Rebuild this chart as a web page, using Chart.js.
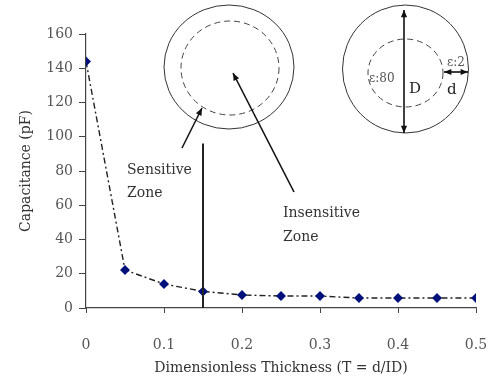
<!DOCTYPE html>
<html>
<head>
<meta charset="utf-8">
<script src="https://cdn.jsdelivr.net/npm/chart.js@4.4.0/dist/chart.umd.min.js"></script>
<style>
  html, body { margin: 0; padding: 0; background: #fff; }
  #wrap { width: 490px; height: 381px; }
</style>
</head>
<body>
<div id="wrap"><canvas id="cap"></canvas></div>
<script>
var thickness = [0, 0.05, 0.1, 0.15, 0.2, 0.25, 0.3, 0.35, 0.4, 0.45, 0.5];
var capacitance = [144, 22.2, 14, 9.7, 7.6, 7, 7, 5.8, 5.8, 5.8, 5.8];
var xTicks = [0, 0.1, 0.2, 0.3, 0.4, 0.5];
var yTicks = [0, 20, 40, 60, 80, 100, 120, 140, 160];
var boundaryT = 0.15;
var boundaryTop = 96;

var serif = '"DejaVu Serif", "Liberation Serif", serif';

// sketches + zone labels drawn on top of the chart
var sketches = {
    id: 'sketches',
    afterDraw: function (chart) {
        var c = chart.ctx;
        var xs = chart.scales.x, ys = chart.scales.y;
        c.save();
        c.strokeStyle = '#222';
        c.fillStyle = '#222';

        // zone boundary
        c.lineWidth = 2;
        c.beginPath();
        c.moveTo(xs.getPixelForValue(boundaryT), ys.getPixelForValue(0));
        c.lineTo(xs.getPixelForValue(boundaryT), ys.getPixelForValue(boundaryTop));
        c.stroke();

        function circle(x, y, rx, ry, dashed) {
            c.setLineDash(dashed ? [6, 4] : []);
            c.lineWidth = 1;
            c.strokeStyle = dashed ? '#444' : '#333';
            c.beginPath();
            c.ellipse(x, y, rx, ry, 0, 0, Math.PI * 2);
            c.stroke();
        }
        function arrow(x1, y1, x2, y2, both) {
            c.setLineDash([]);
            c.lineWidth = 1.6;
            c.strokeStyle = '#111';
            c.fillStyle = '#111';
            c.beginPath();
            c.moveTo(x1, y1);
            c.lineTo(x2, y2);
            c.stroke();
            head(x1, y1, x2, y2);
            if (both) head(x2, y2, x1, y1);
        }
        function head(x1, y1, x2, y2) {
            var a = Math.atan2(y2 - y1, x2 - x1), L = 8, w = 0.4;
            c.beginPath();
            c.moveTo(x2, y2);
            c.lineTo(x2 - L * Math.cos(a - w), y2 - L * Math.sin(a - w));
            c.lineTo(x2 - L * Math.cos(a + w), y2 - L * Math.sin(a + w));
            c.closePath();
            c.fill();
        }

        // left sketch
        circle(229, 67, 65, 62, false);
        circle(230, 68, 49, 47, true);
        arrow(182, 148, 202, 108, false);
        arrow(294, 192, 233, 73, false);

        // right sketch
        circle(405.5, 69, 63, 64, false);
        circle(405.5, 73, 37.5, 34, true);
        arrow(404, 133, 404, 10, true);
        arrow(444, 72, 468, 72, true);

        c.setLineDash([]);
        c.font = '14px ' + serif;
        c.fillStyle = '#333';
        c.textBaseline = 'middle';
        c.textAlign = 'left';
        c.fillText('Sensitive', 127, 170);
        c.fillText('Zone', 127, 193);
        c.fillText('Insensitive', 283, 213);
        c.fillText('Zone', 283, 237);

        c.fillStyle = '#555';
        c.font = '12px ' + serif;
        c.fillText('\u03b5:80', 369, 79);
        c.fillText('\u03b5:2', 447, 63);
        c.fillStyle = '#222';
        c.font = '15px ' + serif;
        c.fillText('D', 409, 89);
        c.fillText('d', 447, 90);
        c.restore();
    }
};

new Chart(document.getElementById('cap').getContext('2d'), {
    type: 'line',
    data: {
        datasets: [{
            data: thickness.map(function (t, i) { return { x: t, y: capacitance[i] }; }),
            borderColor: '#222',
            borderWidth: 1.4,
            borderDash: [6, 3, 2, 3],
            pointStyle: 'rectRot',
            pointRadius: 4,
            pointBackgroundColor: '#00107a',
            pointBorderColor: '#00107a',
            tension: 0
        }]
    },
    options: {
        responsive: true,
        maintainAspectRatio: false,
        animation: false,
        layout: { padding: { left: 18, right: 14, top: 34, bottom: 0 } },
        plugins: { legend: { display: false }, tooltip: { enabled: false } },
        scales: {
            x: {
                type: 'linear',
                min: 0, max: 0.5,
                afterBuildTicks: function (ax) { ax.ticks = xTicks.map(function (v) { return { value: v }; }); },
                afterFit: function (ax) { ax.height = 73; ax.paddingLeft = 0; ax.paddingRight = 0; },
                grid: { drawOnChartArea: false, tickLength: 5, color: '#444' },
                border: { color: '#444', width: 1.2 },
                ticks: { padding: 24, color: '#555', font: { family: serif, size: 14 },
                    callback: function (v) { return String(v); } },
                title: { display: true, text: 'Dimensionless Thickness (T = d/ID)', color: '#333',
                    font: { family: serif, size: 14 }, padding: { top: 6 } }
            },
            y: {
                min: 0, max: 160,
                afterBuildTicks: function (ax) { ax.ticks = yTicks.map(function (v) { return { value: v }; }); },
                afterFit: function (ax) { ax.width = 68; ax.paddingTop = 0; ax.paddingBottom = 0; },
                grid: { drawOnChartArea: false, tickLength: 7, color: '#444' },
                border: { color: '#444', width: 1.2 },
                ticks: { padding: 6, color: '#555', font: { family: serif, size: 14 } },
                title: { display: true, text: 'Capacitance (pF)', color: '#333',
                    font: { family: serif, size: 14 }, padding: { top: 0, bottom: 0 } }
            }
        }
    },
    plugins: [sketches]
});
</script>
</body>
</html>
